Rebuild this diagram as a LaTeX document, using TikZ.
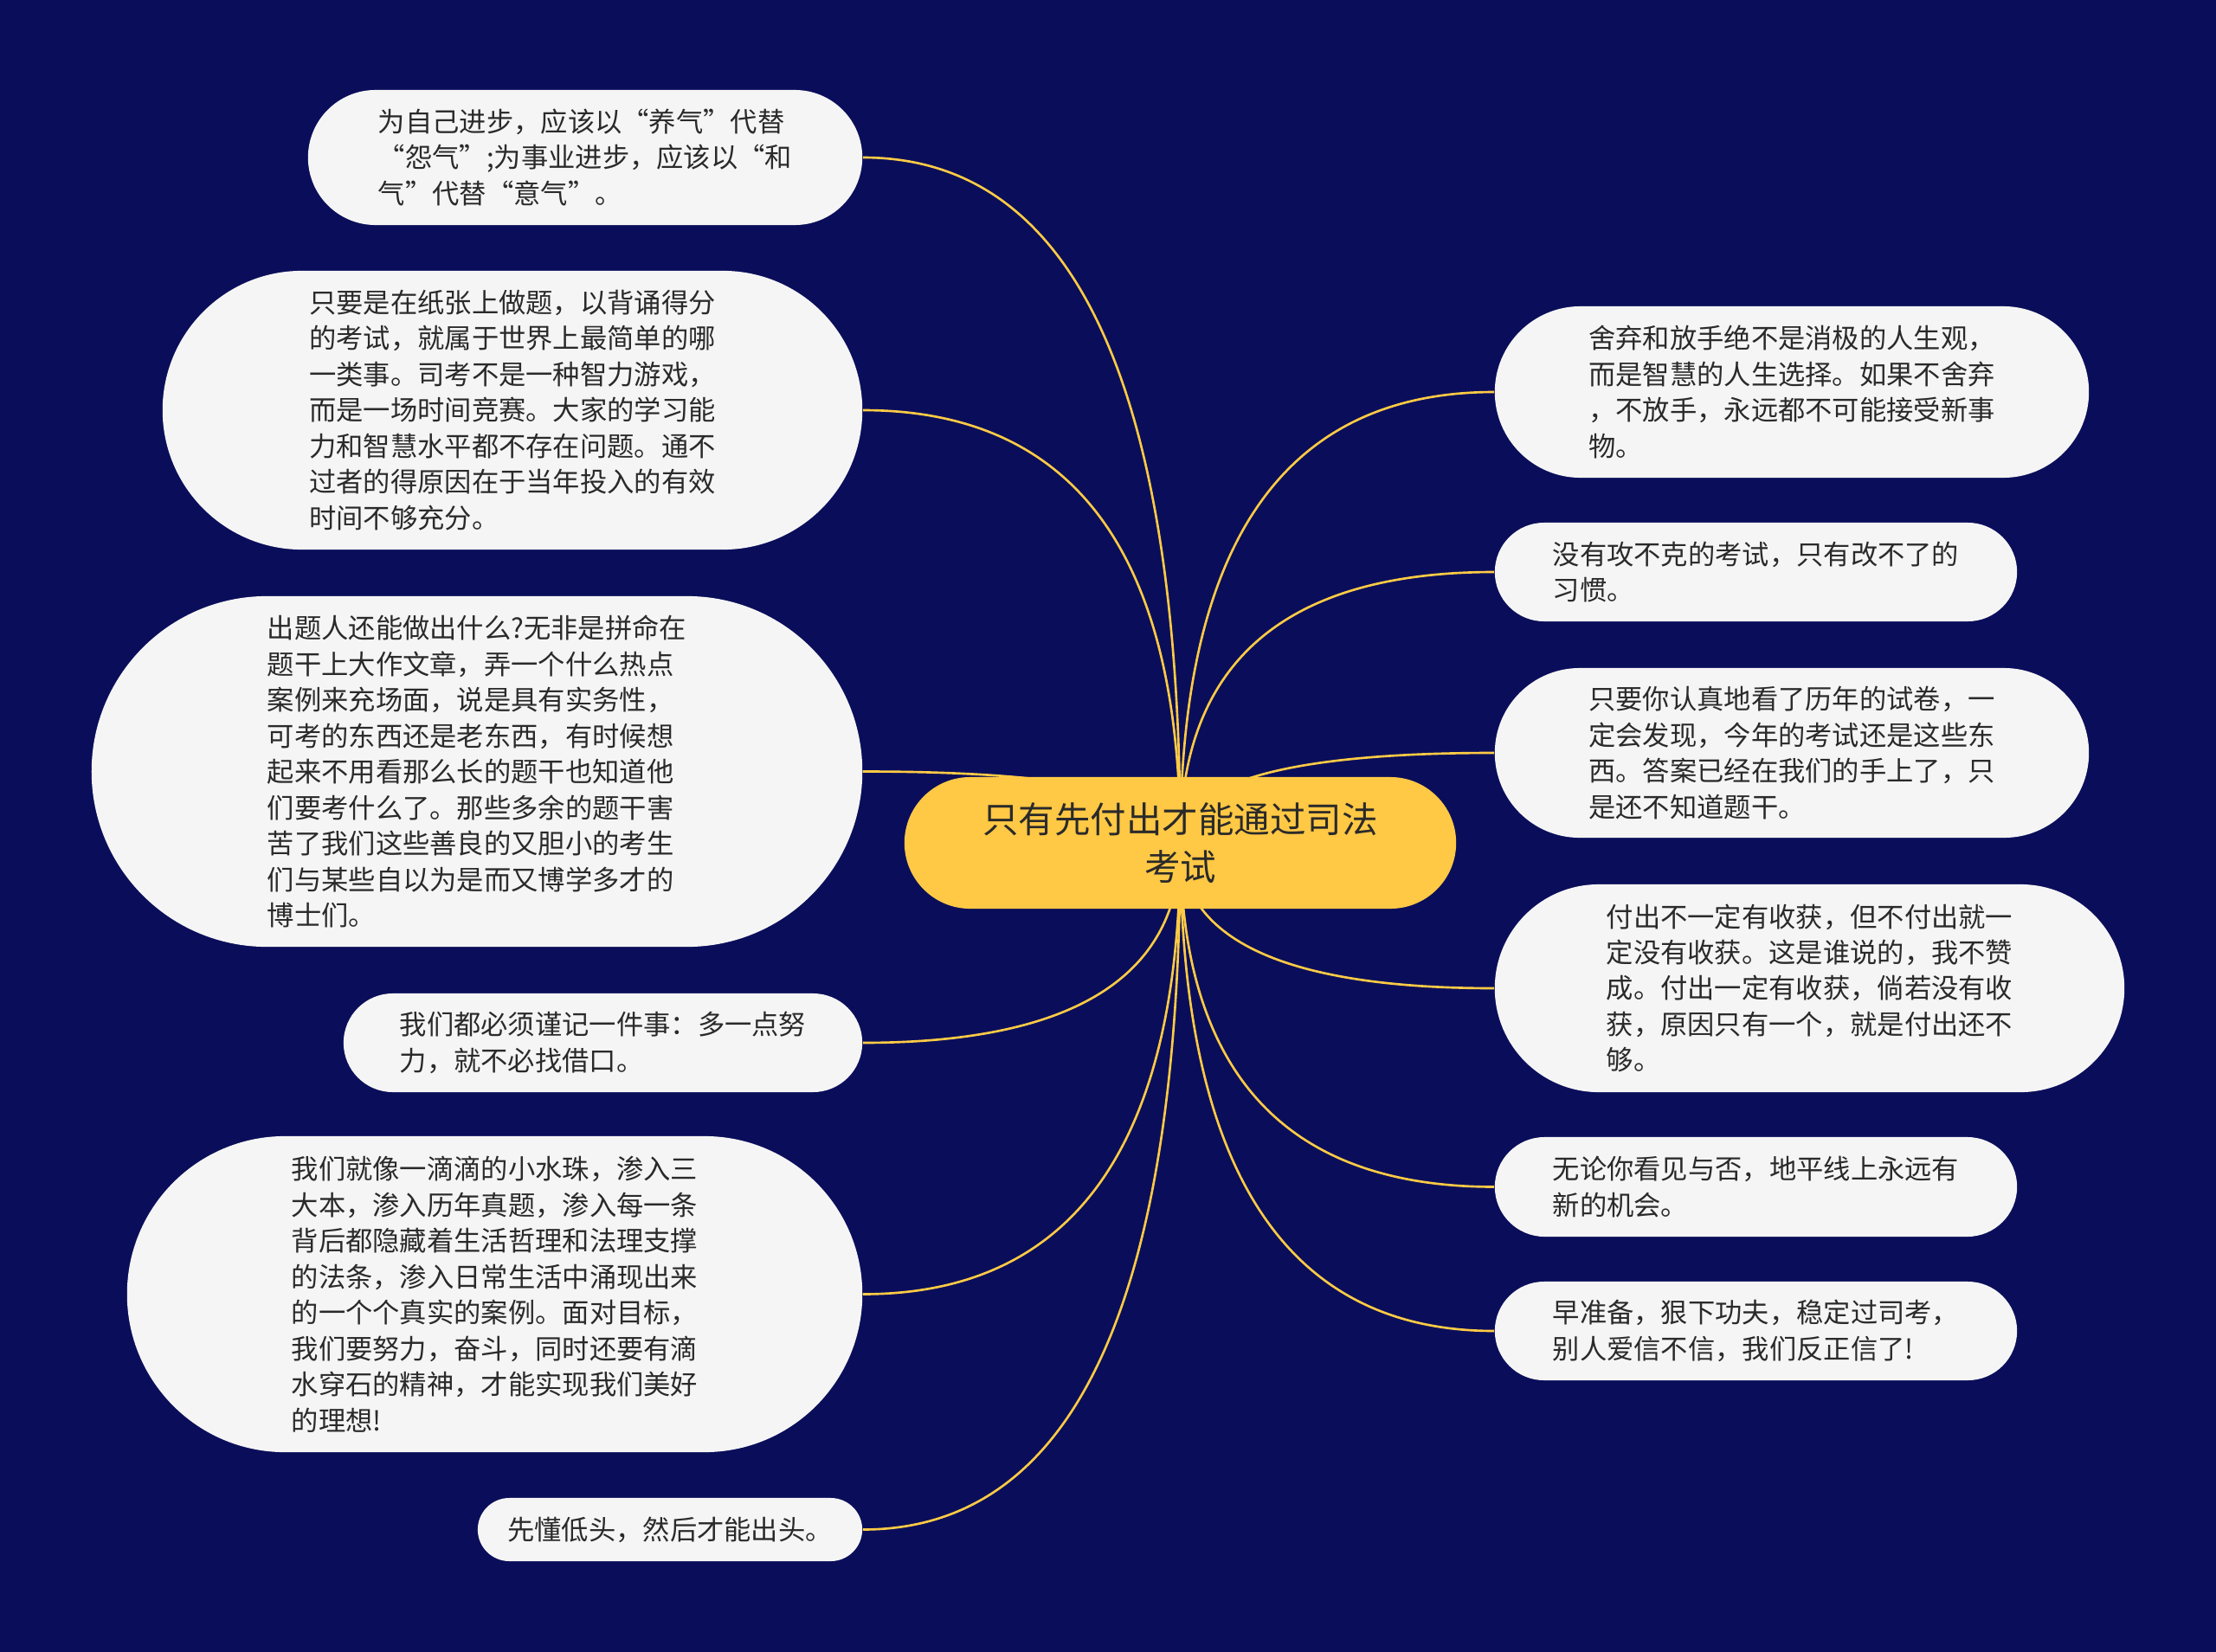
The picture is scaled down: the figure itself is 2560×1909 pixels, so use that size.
\documentclass[tikz,border=0pt]{standalone}
\usepackage{fontspec}
\setmainfont{Noto Sans CJK SC}
\usetikzlibrary{calc,backgrounds}
\definecolor{bgc}{HTML}{0A0E5A}
\definecolor{rootc}{HTML}{FFC845}
\definecolor{leafc}{HTML}{F5F5F5}
\definecolor{txtc}{HTML}{2A2A2A}
\definecolor{linec}{HTML}{FFCB45}
\newcommand\leaffont{\fontsize{8.9pt}{11.8pt}\selectfont}
\newcommand\rootfont{\fontsize{11.8pt}{15.8pt}\selectfont}
\newcommand\mmconn[2]{\draw[conn] (root.center) .. controls ($(root.center)!0.6667!(root.center |- #1.#2)$) and ($(#1.#2)!0.6667!(root.center |- #1.#2)$) .. (#1.#2);}
\tikzset{
  leaf/.style n args={2}{fill=leafc, draw=none, align=left, inner sep=0pt, text=txtc, font=\leaffont,
    minimum width=#1, minimum height=#2, rounded corners=#2/2},
  rootbox/.style={fill=rootc, draw=none, align=center, inner sep=0pt, text=txtc, font=\rootfont,
    minimum width=6.37cm, minimum height=1.52cm, rounded corners=0.76cm},
  conn/.style={draw=linec, line width=0.75pt}
}
\begin{document}
\begin{tikzpicture}[x=0.01cm,y=-0.01cm]
\useasboundingbox (0,0) rectangle (2560,1909);

\node[rootbox] (root) at (1363.5,974) {只有先付出才能通过司法\\考试};

% left side
\node[leaf={6.40cm}{1.56cm}] (l1) at (676,182) {为自己进步，应该以“养气”代替\\“怨气”;为事业进步，应该以“和\\气”代替“意气”。};
\node[leaf={8.08cm}{3.22cm}] (l2) at (592,474) {只要是在纸张上做题，以背诵得分\\的考试，就属于世界上最简单的哪\\一类事。司考不是一种智力游戏，\\而是一场时间竞赛。大家的学习能\\力和智慧水平都不存在问题。通不\\过者的得原因在于当年投入的有效\\时间不够充分。};
\node[leaf={8.90cm}{4.05cm}] (l3) at (551,891.5) {出题人还能做出什么?无非是拼命在\\题干上大作文章，弄一个什么热点\\案例来充场面，说是具有实务性，\\可考的东西还是老东西，有时候想\\起来不用看那么长的题干也知道他\\们要考什么了。那些多余的题干害\\苦了我们这些善良的又胆小的考生\\们与某些自以为是而又博学多才的\\博士们。};
\node[leaf={5.99cm}{1.14cm}] (l4) at (696.5,1205) {我们都必须谨记一件事：多一点努\\力，就不必找借口。};
\node[leaf={8.49cm}{3.65cm}] (l5) at (571.5,1495.5) {我们就像一滴滴的小水珠，渗入三\\大本，渗入历年真题，渗入每一条\\背后都隐藏着生活哲理和法理支撑\\的法条，渗入日常生活中涌现出来\\的一个个真实的案例。面对目标，\\我们要努力，奋斗，同时还要有滴\\水穿石的精神，才能实现我们美好\\的理想!};
\node[leaf={4.44cm}{0.73cm}] (l6) at (774,1767.5) {先懂低头，然后才能出头。};

% right side
\node[leaf={6.86cm}{1.98cm}] (r1) at (2070,453) {舍弃和放手绝不是消极的人生观，\\而是智慧的人生选择。如果不舍弃\\，不放手，永远都不可能接受新事\\物。};
\node[leaf={6.03cm}{1.14cm}] (r2) at (2028.5,661) {没有攻不克的考试，只有改不了的\\习惯。};
\node[leaf={6.86cm}{1.96cm}] (r3) at (2070,870) {只要你认真地看了历年的试卷，一\\定会发现，今年的考试还是这些东\\西。答案已经在我们的手上了，只\\是还不知道题干。};
\node[leaf={7.27cm}{2.40cm}] (r4) at (2090.5,1142) {付出不一定有收获，但不付出就一\\定没有收获。这是谁说的，我不赞\\成。付出一定有收获，倘若没有收\\获，原因只有一个，就是付出还不\\够。};
\node[leaf={6.03cm}{1.15cm}] (r5) at (2028.5,1371.5) {无论你看见与否，地平线上永远有\\新的机会。};
\node[leaf={6.03cm}{1.14cm}] (r6) at (2028.5,1538) {早准备，狠下功夫，稳定过司考，\\别人爱信不信，我们反正信了!};

\begin{scope}[on background layer]
  \fill[bgc] (0,0) rectangle (2560,1909);
  \mmconn{l1}{east}
  \mmconn{l2}{east}
  \mmconn{l3}{east}
  \mmconn{l4}{east}
  \mmconn{l5}{east}
  \mmconn{l6}{east}
  \mmconn{r1}{west}
  \mmconn{r2}{west}
  \mmconn{r3}{west}
  \mmconn{r4}{west}
  \mmconn{r5}{west}
  \mmconn{r6}{west}
\end{scope}
\end{tikzpicture}
\end{document}
